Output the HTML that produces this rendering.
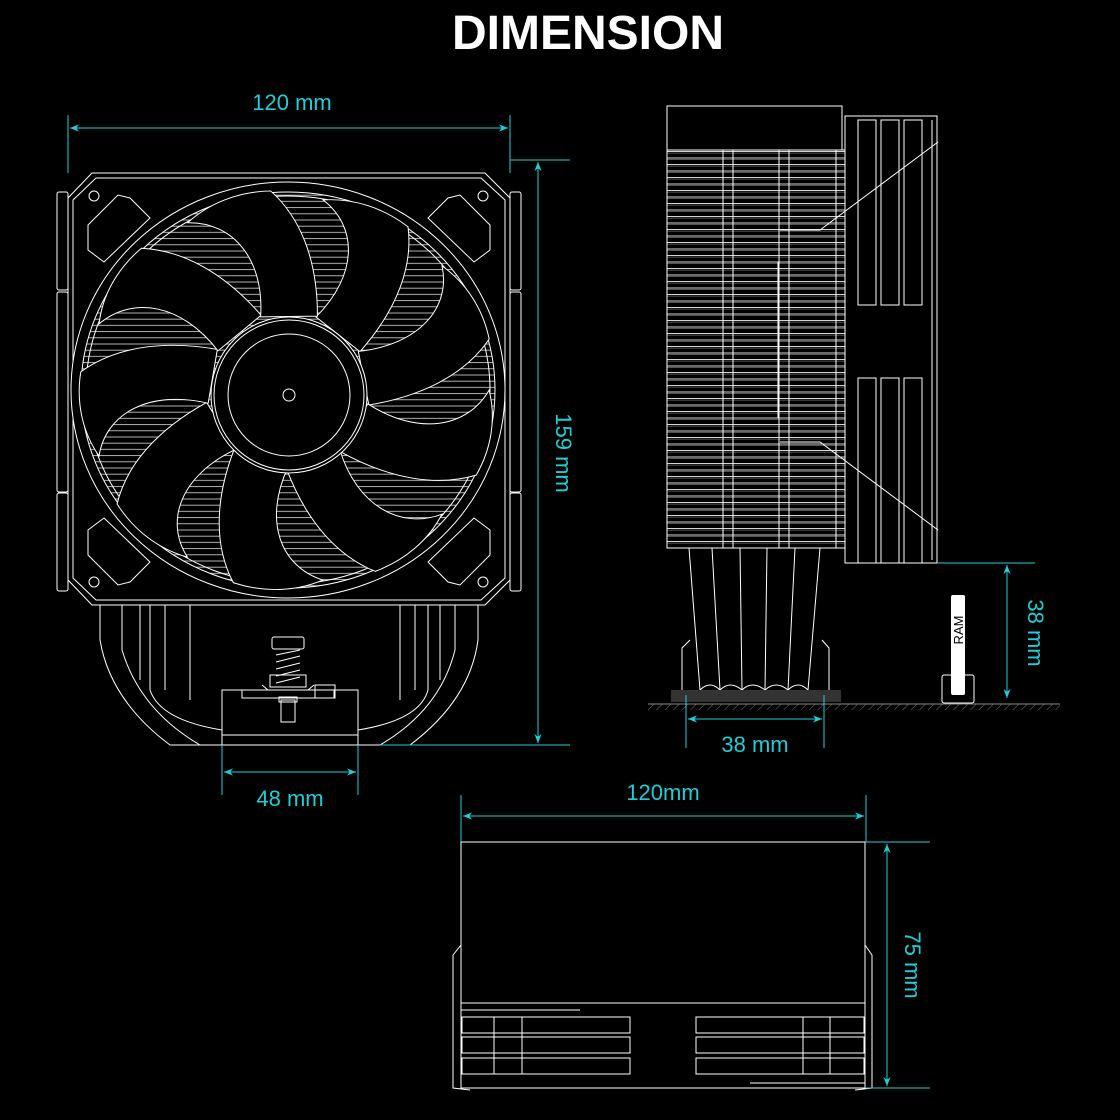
<!DOCTYPE html>
<html><head><meta charset="utf-8"><style>
html,body{margin:0;padding:0;background:#000;}
svg{display:block;}
text{font-family:"Liberation Sans",Arial,sans-serif;}
</style></head><body>
<svg width="1120" height="1120" viewBox="0 0 1120 1120" xmlns="http://www.w3.org/2000/svg">
<defs>
<pattern id="fins" width="8" height="6.2" patternUnits="userSpaceOnUse">
<line x1="0" y1="3" x2="8" y2="3" stroke="#ddd" stroke-width="0.8"/>
</pattern>
<pattern id="fins2" width="8" height="6.5" patternUnits="userSpaceOnUse">
<line x1="0" y1="2" x2="8" y2="2" stroke="#eee" stroke-width="0.9"/>
<line x1="0" y1="3.6" x2="8" y2="3.6" stroke="#888" stroke-width="0.6"/>
</pattern>
<pattern id="hatch" width="6" height="6" patternUnits="userSpaceOnUse" patternTransform="rotate(45)">
<line x1="0" y1="0" x2="0" y2="6" stroke="#777" stroke-width="1"/>
</pattern>
<marker id="ah" viewBox="0 0 10 10" refX="10" refY="5" markerWidth="9" markerHeight="9" orient="auto-start-reverse">
<path d="M0,1 L10,5 L0,9 L3,5 Z" fill="#1ecfd6"/>
</marker>
<g id="blade">
<path d="M28,-76 C70,-120 70,-170 35,-198 C65,-200 95,-190 120,-170 C125,-130 110,-85 72,-40 Z" fill="#000" stroke="#fff" stroke-width="1"/>
</g>
</defs>

<text x="588" y="49" font-size="48" font-weight="bold" fill="#fff" text-anchor="middle">DIMENSION</text>

<!-- FRONT VIEW -->
<g fill="none" stroke="#fff" stroke-width="1">
<path d="M100,605 L100,640 Q110,700 170,745 L410,745 Q470,700 478,640 L478,605" />
<path d="M122,605 L122,650 Q140,710 200,745"/>
<path d="M455,605 L455,650 Q440,710 380,745"/>
<path d="M150,605 L150,690 Q160,720 222,730"/>
<path d="M428,605 L428,690 Q420,720 358,730"/>
<line x1="140" y1="605" x2="140" y2="680"/><line x1="165" y1="605" x2="165" y2="690"/>
<line x1="190" y1="605" x2="190" y2="700"/><line x1="400" y1="605" x2="400" y2="700"/>
<line x1="415" y1="605" x2="415" y2="690"/><line x1="440" y1="605" x2="440" y2="680"/>
<rect x="222" y="690" width="136" height="55"/>
<line x1="222" y1="735" x2="358" y2="735"/>
<rect x="242" y="690" width="92" height="8"/>
<rect x="315" y="685" width="20" height="13"/>
<path d="M262,685 L268,690 L308,690 L314,685"/>
<rect x="272" y="637" width="32" height="12" rx="2"/>
<path d="M276,655 L300,650 M276,662 L300,656 M276,669 L300,663 M276,676 L300,670 M276,683 L300,677"/>
<rect x="270" y="675" width="36" height="12"/>
<rect x="281" y="700" width="14" height="22"/>
<rect x="279" y="697" width="18" height="5"/>
</g>

<g fill="none" stroke="#fff" stroke-width="1">
<path d="M92,173 L485,173 L510,198 L510,580 L485,605 L92,605 L68,580 L68,198 Z" fill="#000"/>
<path d="M96,178 L481,178 L505,200 L505,578 L481,600 L96,600 L73,578 L73,200 Z"/>
<rect x="57" y="192" width="11" height="98" rx="2"/>
<rect x="57" y="292" width="11" height="200" rx="2"/>
<rect x="57" y="493" width="11" height="98" rx="2"/>
<rect x="510" y="192" width="11" height="98" rx="2"/>
<rect x="510" y="292" width="11" height="200" rx="2"/>
<rect x="510" y="493" width="11" height="98" rx="2"/>
<circle cx="94" cy="196" r="5"/><circle cx="483" cy="196" r="5"/>
<circle cx="94" cy="582" r="5"/><circle cx="483" cy="582" r="5"/>
<path d="M88,225 L118,195 L130,198 L150,218 L104,262 L88,250 Z"/>
<path d="M490,225 L460,195 L448,198 L428,218 L474,262 L490,250 Z"/>
<path d="M88,555 L118,585 L130,582 L150,562 L104,518 L88,530 Z"/>
<path d="M490,555 L460,585 L448,582 L428,562 L474,518 L490,530 Z"/>
<ellipse cx="288" cy="390" rx="217" ry="208" fill="#000"/>
<ellipse cx="288" cy="390" rx="207" ry="198" fill="url(#fins)"/>
<ellipse cx="288" cy="390" rx="202" ry="194"/>
</g>
<g transform="translate(288,390) scale(1,0.96)">
<use href="#blade" transform="rotate(0)"/>
<use href="#blade" transform="rotate(40)"/>
<use href="#blade" transform="rotate(80)"/>
<use href="#blade" transform="rotate(120)"/>
<use href="#blade" transform="rotate(160)"/>
<use href="#blade" transform="rotate(200)"/>
<use href="#blade" transform="rotate(240)"/>
<use href="#blade" transform="rotate(280)"/>
<use href="#blade" transform="rotate(320)"/>
</g>
<g fill="none" stroke="#fff" stroke-width="1">
<circle cx="289" cy="395" r="78" fill="#000"/>
<circle cx="289" cy="395" r="75"/>
<circle cx="289" cy="395" r="61"/>
<circle cx="289" cy="395" r="6"/>
</g>

<g stroke="#1ecfd6" stroke-width="1" fill="none">
<line x1="68" y1="115" x2="68" y2="173"/>
<line x1="510" y1="115" x2="510" y2="173"/>
<line x1="70" y1="128" x2="508" y2="128" marker-start="url(#ah)" marker-end="url(#ah)"/>
<line x1="510" y1="160" x2="570" y2="160"/>
<line x1="380" y1="745" x2="570" y2="745"/>
<line x1="538" y1="162" x2="538" y2="743" marker-start="url(#ah)" marker-end="url(#ah)"/>
<line x1="222" y1="745" x2="222" y2="795"/>
<line x1="358" y1="745" x2="358" y2="795"/>
<line x1="224" y1="772" x2="356" y2="772" marker-start="url(#ah)" marker-end="url(#ah)"/>
</g>
<g fill="#1ecfd6" font-size="22">
<text x="292" y="110" text-anchor="middle">120 mm</text>
<text x="290" y="806" text-anchor="middle">48 mm</text>
<text transform="translate(556,453) rotate(90)" text-anchor="middle">159 mm</text>
</g>

<!-- SIDE VIEW -->
<g fill="none" stroke="#fff" stroke-width="1">
<rect x="667" y="150" width="178" height="398" fill="url(#fins2)"/>
<rect x="667" y="106" width="175" height="44" fill="#000"/>
<line x1="723" y1="150" x2="723" y2="548"/><line x1="733" y1="150" x2="733" y2="548"/>
<line x1="779" y1="150" x2="779" y2="548"/><line x1="789" y1="150" x2="789" y2="548"/>
<line x1="836" y1="150" x2="836" y2="548"/>
<path d="M780,230 L820,230 L938,142 M780,442 L820,442 L938,530"/>
<path d="M778,262 L778,418"/>
<rect x="845" y="116" width="92" height="447"/>
<rect x="858" y="120" width="18" height="185"/><rect x="881" y="120" width="18" height="185"/><rect x="904" y="120" width="18" height="185"/>
<rect x="858" y="378" width="18" height="185"/><rect x="881" y="378" width="18" height="185"/><rect x="904" y="378" width="18" height="185"/>
<line x1="932" y1="120" x2="932" y2="560"/>
<path d="M689,548 L700,690 M712,548 L720,690 M740,548 L742,690 M767,548 L765,690 M795,548 L788,690 M820,548 L808,690"/>
<path d="M690,640 L682,648 L682,690 M822,640 L829,648 L829,690"/>
<path d="M700,690 Q710,680 720,690 Q730,680 742,690 Q752,680 765,690 Q776,680 788,690 Q798,680 808,690"/>
<rect x="942" y="675" width="32" height="28" rx="2" fill="#000"/>
</g>
<rect x="671" y="690" width="170" height="12" fill="#333"/>
<rect x="648" y="704" width="412" height="6" fill="url(#hatch)"/>
<line x1="648" y1="704" x2="1060" y2="704" stroke="#888"/>
<rect x="951" y="595" width="14" height="100" rx="2" fill="#fff"/>
<text transform="translate(963,630) rotate(-90)" font-size="13" fill="#000" text-anchor="middle">RAM</text>

<g stroke="#1ecfd6" stroke-width="1" fill="none">
<line x1="937" y1="563" x2="1035" y2="563"/>
<line x1="1007" y1="565" x2="1007" y2="698" marker-start="url(#ah)" marker-end="url(#ah)"/>
<line x1="686" y1="695" x2="686" y2="748"/>
<line x1="824" y1="695" x2="824" y2="748"/>
<line x1="688" y1="719" x2="822" y2="719" marker-start="url(#ah)" marker-end="url(#ah)"/>
</g>
<g fill="#1ecfd6" font-size="22">
<text x="755" y="752" text-anchor="middle">38 mm</text>
<text transform="translate(1028,633) rotate(90)" text-anchor="middle">38 mm</text>
</g>

<!-- TOP VIEW -->
<g fill="none" stroke="#fff" stroke-width="1">
<rect x="461" y="842" width="404" height="161"/>
<path d="M461,945 L453,955 L453,1088 L470,1090 M865,945 L872,955 L872,1088 L855,1090"/>
<rect x="461" y="1003" width="404" height="85"/>
<rect x="462" y="1017" width="168" height="16"/><rect x="462" y="1037" width="168" height="16"/><rect x="462" y="1058" width="168" height="16"/>
<rect x="696" y="1017" width="168" height="16"/><rect x="696" y="1037" width="168" height="16"/><rect x="696" y="1058" width="168" height="16"/>
<line x1="494" y1="1017" x2="494" y2="1074"/><line x1="522" y1="1017" x2="522" y2="1074"/>
<line x1="803" y1="1017" x2="803" y2="1074"/><line x1="830" y1="1017" x2="830" y2="1074"/>
<line x1="461" y1="1010" x2="580" y2="1010"/><line x1="750" y1="1083" x2="865" y2="1083"/>
</g>
<g stroke="#1ecfd6" stroke-width="1" fill="none">
<line x1="461" y1="795" x2="461" y2="842"/>
<line x1="866" y1="795" x2="866" y2="842"/>
<line x1="463" y1="816" x2="864" y2="816" marker-start="url(#ah)" marker-end="url(#ah)"/>
<line x1="866" y1="842" x2="930" y2="842"/>
<line x1="866" y1="1088" x2="930" y2="1088"/>
<line x1="887" y1="844" x2="887" y2="1086" marker-start="url(#ah)" marker-end="url(#ah)"/>
</g>
<g fill="#1ecfd6" font-size="22">
<text x="663" y="800" text-anchor="middle">120mm</text>
<text transform="translate(905,965) rotate(90)" text-anchor="middle">75 mm</text>
</g>
</svg>
</body></html>
